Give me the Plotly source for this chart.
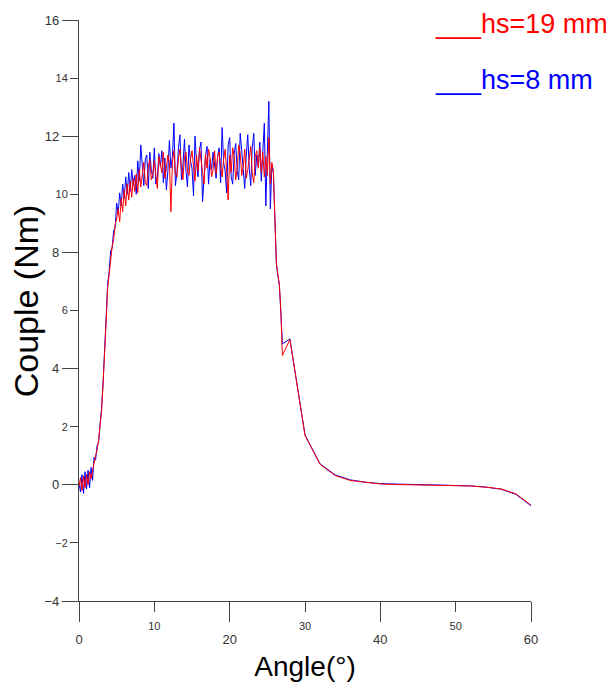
import plotly.graph_objects as go

# ---------------- data ----------------
angle = [
    0.0, 0.2, 0.4, 0.6, 0.8, 1.0, 1.2, 1.4, 1.6, 1.8,
    2.0, 2.2, 2.4, 2.6, 2.8, 3.0, 3.2, 3.4, 3.6, 3.8,
    4.0, 4.2, 4.4, 4.6, 4.8, 5.0, 5.2, 5.4, 5.6, 5.8,
    6.0, 6.2, 6.4, 6.6, 6.8, 7.0, 7.2, 7.4, 7.6, 7.8,
    8.0, 8.2, 8.4, 8.6, 8.8, 9.0, 9.2, 9.4, 9.6, 9.8,
    10.0, 10.2, 10.4, 10.6, 10.8, 11.0, 11.2, 11.4, 11.6, 11.8,
    12.0, 12.2, 12.4, 12.6, 12.8, 13.0, 13.2, 13.4, 13.6, 13.8,
    14.0, 14.2, 14.4, 14.6, 14.8, 15.0, 15.2, 15.4, 15.6, 15.8,
    16.0, 16.2, 16.4, 16.6, 16.8, 17.0, 17.2, 17.4, 17.6, 17.8,
    18.0, 18.2, 18.4, 18.6, 18.8, 19.0, 19.2, 19.4, 19.6, 19.8,
    20.0, 20.2, 20.4, 20.6, 20.8, 21.0, 21.2, 21.4, 21.6, 21.8,
    22.0, 22.2, 22.4, 22.6, 22.8, 23.0, 23.2, 23.4, 23.6, 23.8,
    24.0, 24.2, 24.4, 24.6, 24.8, 25.0, 25.2, 25.4, 25.6, 25.8,
    26.0, 26.2, 26.4, 26.6, 26.8, 27.0,
    28, 30, 32, 34, 36, 38, 40, 42, 44, 46, 48, 50, 52, 54, 56, 58, 60,
]

couple_hs8 = [
    0.05, -0.25, 0.35, -0.3, 0.45, -0.15, 0.5, -0.1, 0.6, 0.15,
    0.95, 0.85, 1.35, 1.45, 2.1, 2.65, 3.55, 4.45, 5.75, 6.9,
    7.35, 8.05, 8.15, 8.75, 8.85, 9.7, 9.35, 10.05, 9.6, 10.35,
    9.85, 10.6, 10.0, 10.75, 10.1, 10.85, 10.3, 10.65, 10.0, 11.15,
    10.45, 11.7, 10.9, 10.3, 11.2, 11.35, 10.2, 11.45, 10.85, 10.55,
    11.6, 10.35, 10.6, 11.4, 10.95, 11.5, 10.4, 11.25, 10.15, 10.8,
    11.85, 10.9, 11.3, 12.45, 10.3, 10.75, 11.6, 12.05, 10.5, 11.0,
    11.9, 10.8, 10.25, 11.7, 11.15, 10.9, 9.95, 12.0, 11.1, 10.6,
    11.55, 11.8, 9.75, 10.7, 11.35, 11.65, 10.35, 11.2, 10.85, 11.45,
    11.0, 10.55, 11.3, 11.6, 10.4, 12.3, 11.1, 10.8, 10.05, 11.7,
    11.95, 10.6, 10.35, 11.4, 11.75, 10.8, 10.5, 12.1, 11.5, 10.75,
    10.2, 11.3, 12.05, 10.9, 10.3, 11.6, 12.1, 10.65, 11.35, 10.95,
    11.8, 10.45, 11.55, 12.45, 9.6, 11.3, 13.2, 9.5, 11.0, 10.75,
    8.85, 7.6, 7.2, 6.85, 5.9, 4.85,
    5.02, 1.72, 0.72, 0.34, 0.17, 0.09, 0.04, 0.02, 0.01, 0.0, -0.01, -0.02, -0.04, -0.08, -0.15, -0.33, -0.72,
]

couple_hs19 = [
    -0.05, 0.25, -0.2, 0.3, -0.1, 0.35, 0.0, 0.45, 0.2, 0.55,
    0.75, 1.0, 1.2, 1.55, 1.95, 2.55, 3.5, 4.4, 5.6, 6.75,
    7.2, 7.85, 8.2, 8.45, 8.95, 9.15, 9.5, 9.05, 9.85, 9.4,
    10.15, 9.6, 10.35, 9.8, 10.45, 9.9, 10.55, 10.1, 10.7, 10.05,
    10.85, 10.25, 10.6, 11.1, 10.4, 10.3, 10.95, 11.2, 10.5, 10.7,
    11.15, 10.6, 10.2, 11.3, 11.0, 10.75, 11.45, 10.55, 10.9, 11.35,
    11.1, 9.4, 11.1, 11.5, 10.7, 10.6, 11.25, 11.55, 10.9, 10.5,
    11.3, 11.45, 10.8, 10.65, 11.2, 11.5, 10.95, 10.45, 11.35, 10.8,
    11.6, 11.15, 10.7, 10.35, 11.4, 10.9, 11.55, 11.25, 10.6, 10.85,
    11.5, 10.7, 11.3, 11.45, 10.95, 10.6, 11.2, 11.55, 10.8, 9.8,
    11.35, 10.75, 11.6, 11.3, 10.5, 10.9, 11.7, 11.4, 10.65, 10.95,
    11.55, 10.55, 10.85, 11.35, 11.65, 10.7, 10.4, 11.3, 11.5, 10.9,
    11.6, 10.75, 11.45, 10.6, 11.3, 10.65, 11.95, 10.35, 11.1, 10.8,
    8.9, 7.65, 7.25, 6.9, 5.95, 4.45,
    5.0, 1.7, 0.7, 0.32, 0.15, 0.08, 0.03, 0.01, 0.0, 0.0, -0.01, -0.02, -0.04, -0.08, -0.14, -0.31, -0.70,
]

series_names = ["hs=19 mm", "hs=8 mm"]
series_colors = ["#ff0000", "#0000ff"]

x_major_ticks = [0, 20, 40, 60]
x_minor_ticks = [10, 30, 50]
y_major_ticks = [-4, 0, 4, 8, 12, 16]
y_minor_ticks = [-2, 2, 6, 10, 14]
x_range = [0, 60]
y_range = [-4, 16]

# ---------------- figure ----------------
SANS = "Liberation Sans, Arial, sans-serif"
AX = "#444444"
TICKC = "#333333"

fig = go.Figure()
# hs=8 mm on the base axes (major ticks), hs=19 mm on the overlaid axes (minor ticks)
fig.add_trace(go.Scatter(x=angle, y=couple_hs8, mode="lines", name=series_names[1],
                         line=dict(color=series_colors[1], width=1),
                         xaxis="x", yaxis="y"))
fig.add_trace(go.Scatter(x=angle, y=couple_hs19, mode="lines", name=series_names[0],
                         line=dict(color=series_colors[0], width=1),
                         xaxis="x2", yaxis="y2"))

common = dict(showgrid=False, zeroline=False, ticks="outside", tickwidth=1.2,
              tickcolor=AX, automargin=False)

# the page body adds an 8 px margin, so the figure is sized to fit the window
fig.update_layout(
    width=606, height=685,
    margin=dict(l=71, r=83, t=12, b=92),
    paper_bgcolor="white", plot_bgcolor="white",
    showlegend=False,
    xaxis=dict(range=x_range, tickvals=x_major_ticks, ticklen=20,
               tickfont=dict(family=SANS, size=13, color=TICKC),
               ticklabelstandoff=6,
               showline=True, linecolor=AX, linewidth=1.2,
               title=dict(text="Angle(°)", standoff=10,
                          font=dict(family=SANS, size=28, color="black")),
               **common),
    xaxis2=dict(range=x_range, overlaying="x", anchor="y2", side="bottom",
                tickvals=x_minor_ticks, ticklen=10, showline=False,
                ticklabelstandoff=5,
                tickfont=dict(family=SANS, size=11, color=TICKC),
                **common),
    yaxis=dict(range=y_range, tickvals=y_major_ticks, ticklen=16,
               tickfont=dict(family=SANS, size=13, color=TICKC),
               showline=True, linecolor=AX, linewidth=1.2,
               ticklabelstandoff=0,
               **common),
    yaxis2=dict(range=y_range, overlaying="y", anchor="x2", side="left",
                tickvals=y_minor_ticks, ticklen=8, showline=False,
                ticklabelstandoff=0,
                tickfont=dict(family=SANS, size=11, color=TICKC),
                **common),
)

# y-axis title placed as in the reference
fig.add_annotation(text="Couple (Nm)", textangle=-90, xref="paper", yref="paper",
                   x=-0.117, y=0.516, xanchor="center", yanchor="middle",
                   showarrow=False, font=dict(family=SANS, size=34, color="black"))

# legend written as coloured text, left-aligned as in the reference
legend_y = [0.993, 0.897]
for name, color, yy in zip(series_names, series_colors, legend_y):
    fig.add_annotation(text="___" + name, xref="paper", yref="paper",
                       x=0.783, y=yy, xanchor="left", yanchor="middle",
                       showarrow=False,
                       font=dict(family=SANS, size=27, color=color))

fig.write_html("out.html")
